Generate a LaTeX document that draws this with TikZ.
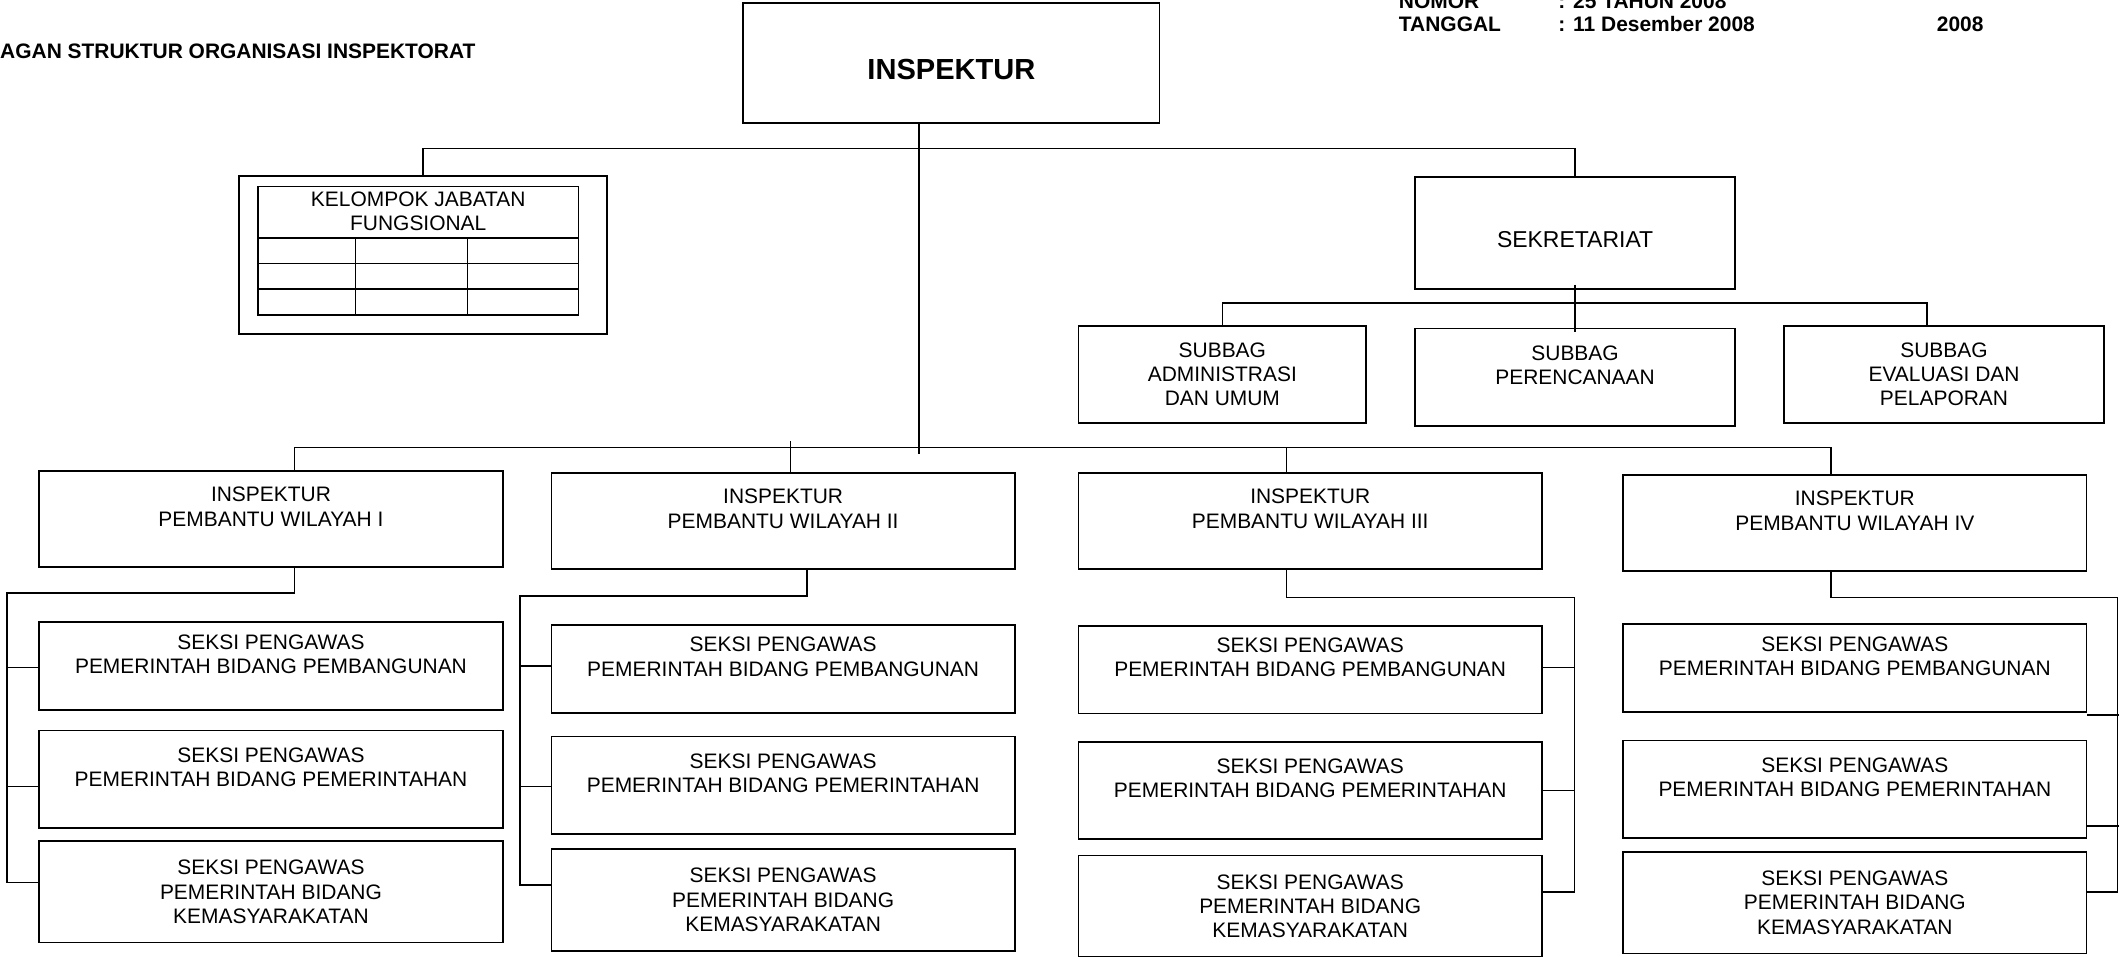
\documentclass[tikz,border=0pt]{standalone}
\usepackage{fontspec}
\setmainfont{Liberation Sans}

\begin{document}
\begin{tikzpicture}[x=1pt,y=-1pt,line join=miter,
    box/.style={draw,line width=1.3pt,inner sep=0pt,align=center,font=\fontsize{15.5}{18}\selectfont},
    conn/.style={line width=1.2pt},
    head/.style={inner sep=0pt,font=\fontsize{15.5}{18}\selectfont\bfseries}]
  \useasboundingbox (0,0) rectangle (1568,708);

  % kop surat
  \node[head,anchor=east] (judul) at (352,38) {AGAN STRUKTUR ORGANISASI INSPEKTORAT};
  \node[head,anchor=west] (nomor) at (1035,1) {NOMOR};
  \node[head,anchor=west] (nomorisi) at (1153,1) {: 25 TAHUN 2008};
  \node[head,anchor=west] (tgl) at (1035,18) {TANGGAL};
  \node[head,anchor=west] (tglisi) at (1153,18) {: 11 Desember 2008};
  \node[head,anchor=west] (tahun) at (1433,18) {2008};

  % pimpinan dan sekretariat
  \node[box,minimum width=308pt,minimum height=89pt,text height=24.4pt,text depth=0pt,
    font=\fontsize{21.5}{24}\selectfont\bfseries] (insp) at (704,46.5) {INSPEKTUR};
  \node[box,minimum width=272pt,minimum height=117pt] (kel) at (313,188.5) {};
  \draw[line width=1.3pt] (191,138) rectangle (428,233);
  \foreach \y in {176,195,214}
    \draw[line width=1.3pt] (191,\y) -- (428,\y);
  \foreach \x in {263,346}
    \draw[line width=1.3pt] (\x,176) -- (\x,233);
  \node[align=center,inner sep=0pt,font=\fontsize{15.5}{18}\selectfont] (kelteks) at (309.5,156.5) {KELOMPOK JABATAN\\FUNGSIONAL};
  \node[box,minimum width=237pt,minimum height=83pt,text height=21.2pt,text depth=0pt,
    font=\fontsize{17}{19}\selectfont] (sek) at (1165.5,172.5) {SEKRETARIAT};
  \node[box,minimum width=213pt,minimum height=72pt] (sub1) at (904.5,277) {SUBBAG\\ADMINISTRASI\\DAN UMUM};
  \node[box,minimum width=237pt,minimum height=72pt] (sub2) at (1165.5,279) {SUBBAG\\PERENCANAAN\\~};
  \node[box,minimum width=237pt,minimum height=72pt] (sub3) at (1438.5,277) {SUBBAG\\EVALUASI DAN\\PELAPORAN};

  % inspektur pembantu
  \foreach \n/\x/\y/\r in {1/200.5/384/I, 2/579.5/385.5/II, 3/969.5/385.5/III, 4/1372.5/387/IV}
    \node[box,minimum width=343pt,minimum height=71pt] (w\n) at (\x,\y) {INSPEKTUR\\PEMBANTU WILAYAH \r\\~};

  % seksi
  \foreach \n/\x/\ya/\yb/\yc in {1/200.5/493/576.5/660, 2/579.5/495/581/666, 3/969.5/495.5/585/670.5, 4/1372.5/494.5/584/668}{
    \node[box,minimum width=343pt,minimum height=65pt] (s\n-a) at (\x,\ya) {SEKSI PENGAWAS\\PEMERINTAH BIDANG PEMBANGUNAN\\~};
    \node[box,minimum width=343pt,minimum height=72pt] (s\n-b) at (\x,\yb) {SEKSI PENGAWAS\\PEMERINTAH BIDANG PEMERINTAHAN\\~};
    \node[box,minimum width=343pt,minimum height=75pt] (s\n-c) at (\x,\yc) {SEKSI PENGAWAS\\PEMERINTAH BIDANG\\KEMASYARAKATAN};
  }

  % garis komando
  \coordinate (hb) at (0,110);
  \coordinate (hs) at (0,224);
  \coordinate (hw) at (0,331);
  \draw[conn] ([xshift=-24pt]insp.south) -- ++(0,244);
  \draw[conn] (kel.north) -- (kel.north |- hb) -| (sek.north);
  \draw[conn] ([yshift=4pt]sek.south) -- ([yshift=-3pt]sub2.north);
  \draw[conn] (sub1.north) -- (sub1.north |- hs) -| ([xshift=-12.5pt]sub3.north);

  \coordinate (d1) at ([xshift=17.5pt]w1.north);
  \coordinate (d2) at ([xshift=5.5pt]w2.north);
  \coordinate (d3) at ([xshift=-17.5pt]w3.north);
  \coordinate (d4) at ([xshift=-17.5pt]w4.north);
  \draw[conn] (d1) -- (d1 |- hw) -- (d4 |- hw) -- (d4);
  \draw[conn] (d2) -- ++(0,-23);
  \draw[conn] (d3) -- (d3 |- hw);

  % wilayah I dan II (kiri)
  \coordinate (b1) at (5,439);
  \draw[conn] ([xshift=17.5pt]w1.south) |- (b1) |- ([yshift=7pt]s1-c.west);
  \draw[conn] ([yshift=-1pt]s1-a.west) -- +(-24,0);
  \draw[conn] ([yshift=-5.5pt]s1-b.west) -- +(-24,0);
  \coordinate (b2) at (385,441);
  \draw[conn] ([xshift=17.5pt]w2.south) |- (b2) |- ([yshift=11pt]s2-c.west);
  \draw[conn] ([yshift=2pt]s2-a.west) -- +(-23,0);
  \draw[conn] ([yshift=-1pt]s2-b.west) -- +(-23,0);

  % wilayah III dan IV (kanan)
  \coordinate (b3) at (1165,442);
  \draw[conn] ([xshift=-17.5pt]w3.south) |- (b3) |- ([yshift=10.5pt]s3-c.east);
  \draw[conn] ([yshift=1.5pt]s3-a.east) -- +(24,0);
  \draw[conn] (s3-b.east) -- +(24,0);
  \coordinate (b4) at (1567,442);
  \draw[conn] ([xshift=-17.5pt]w4.south) |- (b4) |- ([yshift=8pt]s4-c.east);
  \draw[conn] ([yshift=-34.5pt]s4-a.east) -- +(23,0);
  \draw[conn] ([yshift=-27pt]s4-b.east) -- +(23,0);
\end{tikzpicture}
\end{document}
